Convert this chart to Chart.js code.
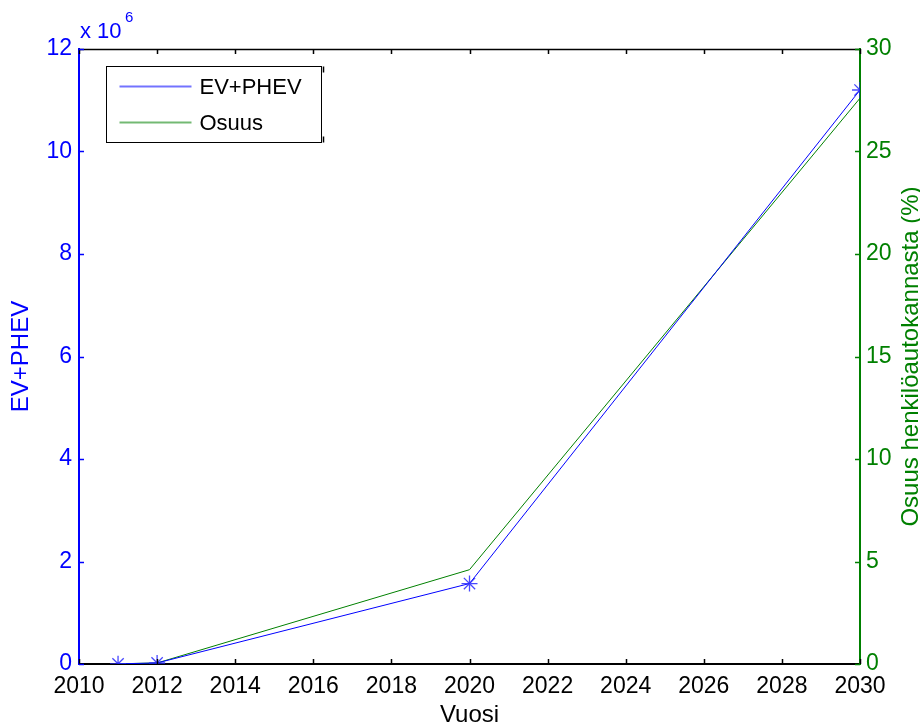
<!DOCTYPE html>
<html>
<head>
<meta charset="utf-8">
<script src="https://cdn.jsdelivr.net/npm/chart.js@4.4.1/dist/chart.umd.min.js"></script>
<style>
  html, body { margin: 0; padding: 0; background: #fff; }
  #wrap { width: 920px; height: 724px; }
</style>
</head>
<body>
<div id="wrap"><canvas id="chart" width="920" height="724"></canvas></div>
<script>
const years = [2011, 2012, 2020, 2030];
const evPhev = [0.003, 0.02, 1.57, 11.2];   // x 10^6
const osuus = [0.01, 0.05, 4.6, 27.6];      // %
const xTicks = [2010, 2012, 2014, 2016, 2018, 2020, 2022, 2024, 2026, 2028, 2030];
const rightTitle = 'Osuus henkilöautokannasta (%)';

const blue = '#0000ff';
const green = '#008000';
const fam = "'Liberation Sans', Arial, sans-serif";
const tickFont = { family: fam, size: 23 };
const titleFont = { family: fam, size: 24 };

// MATLAB-ish frame: top line + inward ticks, legend, exponent, right title
const frame = {
  id: 'frame',
  afterDatasetsDraw(chart) {
    const { ctx, chartArea: a, scales } = chart;
    const len = 5;
    ctx.save();
    ctx.lineWidth = 1.5;

    ctx.strokeStyle = '#000';
    ctx.beginPath();
    ctx.moveTo(a.left, a.top + 0.5);
    ctx.lineTo(a.right, a.top + 0.5);
    scales.x.ticks.forEach(t => {
      const px = Math.round(scales.x.getPixelForValue(t.value)) + 0.5;
      ctx.moveTo(px, a.bottom); ctx.lineTo(px, a.bottom - len);
      ctx.moveTo(px, a.top); ctx.lineTo(px, a.top + len);
    });
    ctx.stroke();

    ctx.strokeStyle = blue;
    ctx.beginPath();
    scales.y.ticks.forEach(t => {
      const py = Math.round(scales.y.getPixelForValue(t.value)) + 0.5;
      ctx.moveTo(a.left, py); ctx.lineTo(a.left + len, py);
    });
    ctx.stroke();

    ctx.strokeStyle = green;
    ctx.beginPath();
    scales.y1.ticks.forEach(t => {
      const py = Math.round(scales.y1.getPixelForValue(t.value)) + 0.5;
      ctx.moveTo(a.right, py); ctx.lineTo(a.right - len, py);
    });
    ctx.stroke();

    // exponent label of the left axis
    ctx.fillStyle = blue;
    ctx.textBaseline = 'alphabetic';
    ctx.font = "22px " + fam;
    ctx.fillText('x 10', a.left + 1, a.top - 11);
    ctx.font = "15px " + fam;
    ctx.fillText('6', a.left + 46, a.top - 27);

    // right axis title, read bottom to top
    ctx.save();
    ctx.translate(918, (a.top + a.bottom) / 2);
    ctx.rotate(-Math.PI / 2);
    ctx.textAlign = 'center';
    ctx.fillStyle = green;
    ctx.font = "24px " + fam;
    ctx.fillText(rightTitle, 0, 0);
    ctx.restore();

    // legend box
    const lx = a.left + 27.5, ly = a.top + 17.5, lw = 215, lh = 76;
    ctx.fillStyle = '#fff';
    ctx.fillRect(lx, ly, lw, lh);
    ctx.strokeStyle = '#000';
    ctx.lineWidth = 1;
    ctx.strokeRect(lx, ly, lw, lh);
    ctx.lineWidth = 1.5;
    ctx.beginPath();
    ctx.moveTo(lx + lw + 2, ly); ctx.lineTo(lx + lw + 2, ly + 6);
    ctx.moveTo(lx + lw + 2, ly + lh); ctx.lineTo(lx + lw + 2, ly + lh - 6);
    ctx.stroke();
    ctx.font = "22px " + fam;
    ctx.textBaseline = 'middle';
    chart.data.datasets.forEach((ds, i) => {
      const yy = ly + 20 + i * 36;
      ctx.strokeStyle = ds.borderColor;
      ctx.globalAlpha = 0.55;
      ctx.lineWidth = 2;
      ctx.beginPath();
      ctx.moveTo(lx + 13, yy); ctx.lineTo(lx + 85, yy);
      ctx.stroke();
      ctx.globalAlpha = 1;
      ctx.fillStyle = '#000';
      ctx.fillText(ds.label, lx + 93, yy + 1);
    });
    ctx.restore();
  }
};

new Chart(document.getElementById('chart'), {
  type: 'line',
  data: {
    datasets: [
      {
        label: 'EV+PHEV',
        data: years.map((y, i) => ({ x: y, y: evPhev[i] })),
        yAxisID: 'y',
        borderColor: blue,
        backgroundColor: blue,
        borderWidth: 1,
        pointStyle: 'star',
        pointRadius: 8,
        pointBorderWidth: 1.3,
        pointBorderColor: 'rgba(40,40,255,0.85)',
        tension: 0
      },
      {
        label: 'Osuus',
        data: years.map((y, i) => ({ x: y, y: osuus[i] })),
        yAxisID: 'y1',
        borderColor: green,
        backgroundColor: green,
        borderWidth: 1,
        pointRadius: 0,
        tension: 0
      }
    ]
  },
  options: {
    responsive: false,
    animation: false,
    layout: { padding: { top: 49, left: 0, right: 0, bottom: 0 } },
    plugins: { legend: { display: false }, tooltip: { enabled: false } },
    scales: {
      x: {
        type: 'linear',
        min: 2010, max: 2030,
        afterBuildTicks: s => { s.ticks = xTicks.map(v => ({ value: v })); },
        afterFit: s => { s.height = 60; },
        grid: { drawOnChartArea: false, drawTicks: false },
        border: { color: '#000', width: 2 },
        ticks: { color: '#000', font: tickFont, padding: 9, maxRotation: 0, callback: v => String(v) },
        title: { display: true, text: 'Vuosi', color: '#000', font: titleFont, padding: { top: 0, bottom: -6 } }
      },
      y: {
        position: 'left',
        min: 0, max: 12,
        ticks: { stepSize: 2, color: blue, font: tickFont, padding: 7 },
        afterFit: s => { s.width = 79; },
        grid: { drawOnChartArea: false, drawTicks: false },
        border: { color: blue, width: 2 },
        title: { display: true, text: 'EV+PHEV', color: blue, font: titleFont, padding: { top: 7, bottom: 0 } }
      },
      y1: {
        position: 'right',
        min: 0, max: 30,
        ticks: { stepSize: 5, color: green, font: tickFont, padding: 6 },
        afterFit: s => { s.width = 60; },
        grid: { drawOnChartArea: false, drawTicks: false },
        border: { color: green, width: 2 },
        title: { display: false }
      }
    }
  },
  plugins: [frame]
});
</script>
</body>
</html>
